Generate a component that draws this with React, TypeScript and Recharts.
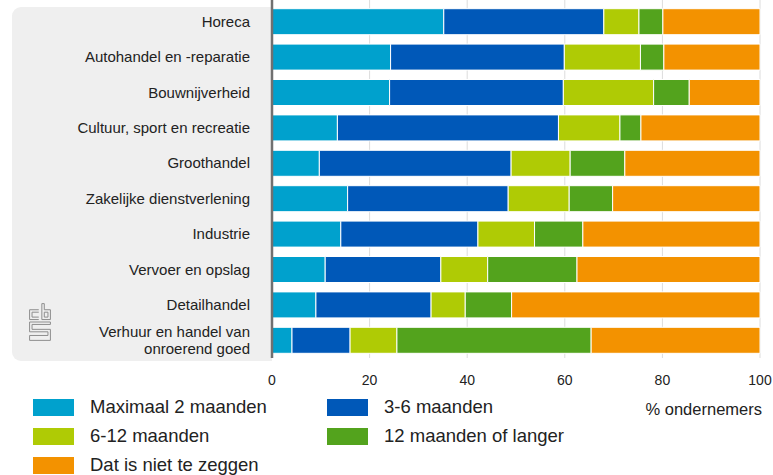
import React from 'react';
import { BarChart, Bar, XAxis, YAxis, CartesianGrid } from 'recharts';

const categories = [
  'Horeca',
  'Autohandel en -reparatie',
  'Bouwnijverheid',
  'Cultuur, sport en recreatie',
  'Groothandel',
  'Zakelijke dienstverlening',
  'Industrie',
  'Vervoer en opslag',
  'Detailhandel',
  'Verhuur en handel van\nonroerend goed',
];

const maximaal2 = [35.2, 24.3, 24.1, 13.4, 9.7, 15.5, 14.1, 10.9, 9.0, 4.1];
const maanden3tot6 = [32.8, 35.6, 35.6, 45.3, 39.3, 32.9, 28.1, 23.7, 23.6, 11.9];
const maanden6tot12 = [7.2, 15.6, 18.5, 12.6, 12.1, 12.5, 11.6, 9.6, 7.0, 9.6];
const maanden12plus = [4.9, 4.8, 7.3, 4.3, 11.2, 8.9, 9.9, 18.3, 9.5, 39.8];
const nietTeZeggen = [19.9, 19.7, 14.5, 24.4, 27.7, 30.2, 36.3, 37.5, 50.9, 34.6];

const seriesNames = [
  'Maximaal 2 maanden',
  '3-6 maanden',
  '6-12 maanden',
  '12 maanden of langer',
  'Dat is niet te zeggen',
];
const seriesColors = ['#00a1cd', '#0058b8', '#afcb05', '#53a31d', '#f39200'];
const xTicks = [0, 20, 40, 60, 80, 100];
const unitLabel = '% ondernemers';

const seriesValues = [maximaal2, maanden3tot6, maanden6tot12, maanden12plus, nietTeZeggen];
const seriesKeys = seriesNames.map((_, j) => 's' + j);

const data = categories.map((name, i) => {
  const row: Record<string, string | number> = { name };
  seriesValues.forEach((vals, j) => {
    row[seriesKeys[j]] = vals[i];
  });
  return row;
});

const FONT = '"Liberation Sans", Arial, Helvetica, sans-serif';

function CategoryTick(props: any) {
  const { x, y, payload } = props;
  const lines = String(payload.value).split('\n');
  const lh = 17;
  return (
    <text x={x} y={y} textAnchor="end" fontFamily={FONT} fontSize={15} fill="#222">
      {lines.map((ln, k) => (
        <tspan key={k} x={x} dy={k === 0 ? -((lines.length - 1) / 2) * lh + 5 : lh}>
          {ln}
        </tspan>
      ))}
    </text>
  );
}

function CbsLogo() {
  // gestileerd cbs-logo, grijze dubbele lijnen
  return (
    <svg width={24} height={38} viewBox="0 0 18 31" style={{ position: 'absolute', left: 28, top: 303 }}>
      <g fill="none" stroke="#8c8c8c" strokeWidth={0.8}>
        <path d="M8,5.5 H0.5 V13.5 H8 M8,7.5 H2.5 V11.5 H8" />
        <path d="M10.5,0.5 V13.5 H17.5 V5.5 H12.5 V0.5 Z M12.5,7.5 H15.5 V11.5 H12.5 Z" />
        <path d="M17.5,15.5 H0.5 V23.5 H15.5 V26.5 H0.5 V30.5 H17.5 V21.5 H2.5 V17.5 H17.5 Z" />
      </g>
    </svg>
  );
}

function LegendBlock() {
  return (
    <div style={{ position: 'absolute', left: 0, top: 0, width: 773, height: 475, fontFamily: FONT }}>
      {seriesNames.map((n, j) => {
        const col = j % 2;
        const row = Math.floor(j / 2);
        const left = col === 0 ? 33 : 327;
        const top = 399 + row * 29;
        return (
          <div key={n} style={{ position: 'absolute', left, top, height: 17 }}>
            <div
              style={{ position: 'absolute', left: 0, top: 0, width: 41, height: 17, background: seriesColors[j] }}
            />
            <div
              style={{
                position: 'absolute',
                left: 57,
                top: -4,
                fontSize: 18.5,
                lineHeight: '23px',
                whiteSpace: 'nowrap',
                color: '#222',
              }}
            >
              {n}
            </div>
          </div>
        );
      })}
      <div
        style={{
          position: 'absolute',
          right: 11,
          top: 399,
          fontSize: 16.5,
          lineHeight: '20px',
          whiteSpace: 'nowrap',
          color: '#222',
        }}
      >
        {unitLabel}
      </div>
    </div>
  );
}

export default function App() {
  return (
    <div style={{ position: 'absolute', left: 0, top: 0, width: 773, height: 475, background: '#fff', overflow: 'hidden' }}>
      <div
        style={{
          position: 'absolute',
          left: 12,
          top: 7,
          width: 260,
          height: 354,
          background: '#efefef',
          borderRadius: '9px 0 0 9px',
        }}
      />
      <CbsLogo />
      <div style={{ position: 'absolute', left: 0, top: 0 }}>
        <BarChart
          width={773}
          height={475}
          data={data}
          layout="vertical"
          margin={{ top: 0, right: 13, bottom: 87, left: 0 }}
          barCategoryGap={4.7}
        >
          <CartesianGrid horizontal={false} stroke="#dcdcdc" strokeWidth={1} />
          <XAxis
            type="number"
            domain={[0, 100]}
            ticks={xTicks}
            axisLine={false}
            tickLine={false}
            tickSize={0}
            tickMargin={17}
            height={30}
            tick={{ fontFamily: FONT, fontSize: 14, fill: '#222' }}
            interval={0}
          />
          <YAxis
            type="category"
            dataKey="name"
            width={272}
            padding={{ top: 4, bottom: 0 }}
            tickLine={false}
            tickSize={0}
            tickMargin={22}
            axisLine={{ stroke: '#707070', strokeWidth: 2.5 }}
            tick={<CategoryTick />}
            interval={0}
          />
          {seriesKeys.map((k, j) => (
            <Bar
              key={k}
              dataKey={k}
              stackId="a"
              fill={seriesColors[j]}
              stroke="#ffffff"
              strokeWidth={1}
              isAnimationActive={false}
            />
          ))}
        </BarChart>
      </div>
      <LegendBlock />
    </div>
  );
}
